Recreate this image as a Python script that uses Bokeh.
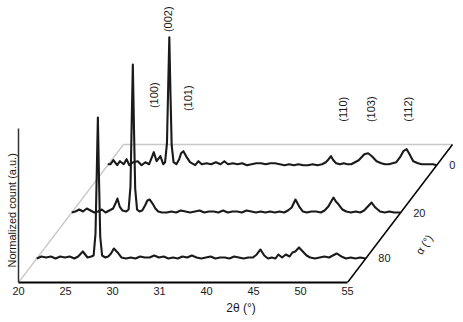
import numpy as np
from bokeh.plotting import figure
from bokeh.models import FixedTicker, Range1d, Title
from bokeh.core.properties import value
from bokeh.embed import file_html
from bokeh.resources import INLINE

# ---- data (2theta in degrees, counts in a.u.) ----
two_theta_80 = [20.0, 20.5, 21.0, 21.5, 22.0, 22.5, 23.0, 23.5, 24.0, 24.4,
                24.9, 25.4, 25.8, 26.05, 26.25, 26.38, 26.5, 26.62, 26.75, 26.95,
                27.3, 27.6, 27.9, 28.2, 28.6, 29.0, 29.5, 30.0, 30.5, 31.0,
                31.5, 32.0, 32.5, 33.0, 33.5, 34.0, 34.5, 35.0, 35.5, 36.0,
                36.5, 37.0, 37.5, 38.0, 38.5, 39.0, 39.5, 40.0, 40.5, 41.0,
                41.5, 42.0, 42.5, 43.0, 43.4, 43.8, 44.2, 44.6, 45.0, 45.4,
                45.7, 46.1, 46.5, 46.9, 47.2, 47.5, 47.9, 48.3, 48.7, 49.1,
                49.6, 50.1, 50.6, 51.1, 51.5, 51.9, 52.4, 52.9, 53.4, 53.9,
                54.4, 55.0]
count_80 = [0, 2, 1, 2, 0, 2, 1, 2, 0, 2,
            7, 1, 2, 3, 25, 85, 141, 80, 22, 3,
            1, 2, 5, 10, 6, 1, 0, 1, 0, 2,
            1, 1, 3, 1, 2, 0, 1, 0, 2, 1,
            3, 1, 0, 1, 2, 0, 1, 1, 0, 2,
            1, 0, 1, 1, 4, 9, 3, 0, 1, 0,
            4, 1, 4, 2, 6, 7, 11, 7, 3, 1,
            0, 1, 2, 1, 3, 5, 2, 0, 1, 0,
            1, 0]

two_theta_20 = [20.0, 20.4, 20.8, 21.2, 21.6, 22.0, 22.4, 22.8, 23.2, 23.6,
                24.0, 24.4, 24.65, 24.86, 25.1, 25.4, 25.8, 26.05, 26.25, 26.38,
                26.5, 26.62, 26.75, 26.95, 27.2, 27.5, 27.8, 28.05, 28.3, 28.6,
                28.9, 29.2, 29.6, 30.1, 30.6, 31.1, 31.6, 32.1, 32.6, 33.1,
                33.6, 34.1, 34.6, 35.1, 35.6, 36.1, 36.6, 37.1, 37.6, 38.1,
                38.6, 39.1, 39.6, 40.1, 40.6, 41.1, 41.6, 42.1, 42.6, 43.0,
                43.4, 43.8, 44.2, 44.6, 45.0, 45.5, 46.0, 46.5, 46.9, 47.3,
                47.6, 47.85, 48.1, 48.4, 48.8, 49.2, 49.7, 50.2, 50.7, 51.1,
                51.5, 51.9, 52.3, 52.8, 53.3, 53.8, 54.3, 54.7, 55.0]
count_20 = [0, 1, 3, 1, 4, 2, 0, 1, 3, 0,
            2, 4, 9, 14, 6, 2, 1, 3, 26, 90,
            148, 85, 24, 3, 1, 2, 7, 12, 13, 9,
            4, 1, 0, 0, 1, 0, 2, 1, 0, 1,
            2, 0, 1, 1, 0, 2, 0, 1, 1, 0,
            2, 1, 0, 1, 0, 1, 0, 1, 0, 2,
            5, 13, 6, 1, 0, 1, 1, 0, 2, 6,
            11, 15, 11, 8, 3, 1, 0, 1, 0, 2,
            6, 10, 5, 1, 0, 1, 0, 0, 0]

two_theta_0 = [20.0, 20.3, 20.6, 21.0, 21.3, 21.7, 22.0, 22.3, 22.7, 23.2,
               23.6, 24.0, 24.4, 24.7, 24.9, 25.2, 25.6, 25.9, 26.1, 26.3,
               26.43, 26.55, 26.67, 26.8, 27.0, 27.3, 27.6, 27.8, 28.05, 28.4,
               28.75, 29.3, 29.65, 30.0, 30.5, 31.0, 31.5, 32.0, 32.4, 32.8,
               33.3, 33.8, 34.3, 34.8, 35.3, 35.8, 36.3, 36.8, 37.3, 37.8,
               38.3, 38.8, 39.3, 39.8, 40.3, 40.8, 41.3, 41.8, 42.3, 42.8,
               43.2, 43.5, 43.75, 44.0, 44.3, 44.7, 45.1, 45.5, 45.9, 46.3,
               46.7, 47.0, 47.3, 47.7, 48.1, 48.6, 49.1, 49.5, 49.9, 50.3,
               50.7, 51.1, 51.45, 51.8, 52.05, 52.5, 53.0, 53.4, 54.1, 54.6,
               55.0]
count_0 = [1, 1, 5, 0, 4, 1, 6, 0, 3, 4,
           0, 3, 1, 8, 13, 4, 9, 1, 3, 22,
           78, 128, 72, 20, 3, 1, 6, 12, 14, 8,
           3, 0, 4, 1, 2, 1, 3, 1, 4, 1,
           2, 1, 2, 0, 1, 2, 2, 1, 2, 2,
           1, 0, 1, 0, 1, 0, 0, 1, 0, 1,
           3, 6, 9, 5, 2, 1, 2, 1, 1, 3,
           5, 8, 11, 12, 9, 4, 2, 1, 1, 2,
           3, 8, 14, 16, 12, 4, 2, 1, 1, 1,
           0]

alpha_labels = ["80", "20", "0"]
alpha_depth = [0.174, 0.507, 0.85]          # position along the alpha (depth) axis, 0..1

hkl_labels = ["(100)", "(002)", "(101)", "(110)", "(103)", "(112)"]
hkl_two_theta = [24.87, 26.4, 28.5, 45.05, 48.03, 51.92]
hkl_height = [70, 146, 67, 56, 56, 56]

tick_values = [20, 25, 30, 35, 40, 45, 50, 55]
tick_labels = ["20", "25", "30", "31", "40", "45", "50", "55"]

# ---- geometry of the oblique projection ----
PX_PER_DEG = 9.4
DEPTH_X = 11.17      # shift in 2theta units at full depth
DEPTH_Y = 138.0      # shift in count units at full depth
Y_AXIS_TOP = 154.0
FRAME_W, FRAME_H = 445, 282

FONT = "Liberation Sans"
TXT = "#1a1a1a"

p = figure(frame_width=FRAME_W, frame_height=FRAME_H,
           x_range=Range1d(20, 20 + FRAME_W / PX_PER_DEG),
           y_range=Range1d(0, FRAME_H),
           output_backend="svg", toolbar_location=None,
           min_border_left=18, min_border_right=0, min_border_top=0, min_border_bottom=40,
           outline_line_color=None, background_fill_color="white",
           border_fill_color="white")
p.grid.visible = False

# bottom axis
ax = p.xaxis[0]
ax.ticker = FixedTicker(ticks=tick_values)
ax.major_label_overrides = {v: l for v, l in zip(tick_values, tick_labels)}
ax.bounds = (tick_values[0], tick_values[-1])
ax.axis_line_width = 2
ax.axis_line_color = "black"
ax.major_tick_in = 0
ax.major_tick_out = 0
ax.major_tick_line_color = None
ax.minor_tick_line_color = None
ax.major_label_standoff = 4
ax.major_label_text_font = FONT
ax.major_label_text_font_size = "11px"
ax.major_label_text_color = TXT
ax.axis_label = "2θ (°)"
ax.axis_label_standoff = 3
ax.axis_label_text_font = FONT
ax.axis_label_text_font_size = "12px"
ax.axis_label_text_font_style = "normal"
ax.axis_label_text_color = TXT

# left axis (line only)
ay = p.yaxis[0]
ay.ticker = FixedTicker(ticks=[])
ay.bounds = (0, Y_AXIS_TOP)
ay.axis_line_width = 1.5
ay.axis_line_color = "#333333"
ay.major_tick_in = 0
ay.major_tick_out = 0
ay.major_tick_line_color = None
ay.minor_tick_line_color = None
ay.major_label_standoff = 0
ay.major_label_text_font_size = "0px"
ay.axis_label = None

# y title placed next to the lower part of the left axis
p.add_layout(Title(text="Normalized count (a.u.)", align="left", offset=15, standoff=2,
                   text_font=FONT, text_font_size="11px", text_font_style="normal",
                   text_color=TXT), "left")

# floor of the pseudo-3D box
x_lo, x_hi = tick_values[0], tick_values[-1]
p.line([x_lo, x_lo + DEPTH_X, x_hi + DEPTH_X], [0, DEPTH_Y, DEPTH_Y],
       line_color="#c8c8c8", line_width=1.3)
p.line([x_hi, x_hi + DEPTH_X], [0, DEPTH_Y], line_color="black", line_width=1.5)

# traces
for tt, cc, d in zip([two_theta_80, two_theta_20, two_theta_0],
                     [count_80, count_20, count_0], alpha_depth):
    p.line(np.array(tt) + DEPTH_X * d, np.array(cc) + DEPTH_Y * d,
           line_color="#1a1a1a", line_width=2.1, line_join="round")

# alpha labels along the right edge
p.text(x=[x_hi + DEPTH_X * d + 1.33 for d in alpha_depth],
       y=[DEPTH_Y * d for d in alpha_depth], text=alpha_labels,
       text_align="left", text_baseline="middle",
       text_font=value(FONT), text_font_size="11px", text_color=TXT)
p.text(x=[x_hi + DEPTH_X * 0.345 + 4.3], y=[DEPTH_Y * 0.275], text=["α (°)"],
       angle=0.98, text_align="center", text_baseline="middle",
       text_font=value(FONT), text_font_size="11px", text_color=TXT)

# hkl labels above the back trace
d_back = alpha_depth[-1]
p.text(x=[t + DEPTH_X * d_back for t in hkl_two_theta],
       y=[DEPTH_Y * d_back + h for h in hkl_height], text=hkl_labels,
       angle=np.pi / 2, text_align="center", text_baseline="middle",
       text_font=value(FONT), text_font_size="11px", text_color=TXT)

open("out.html", "w").write(file_html(p, INLINE))
